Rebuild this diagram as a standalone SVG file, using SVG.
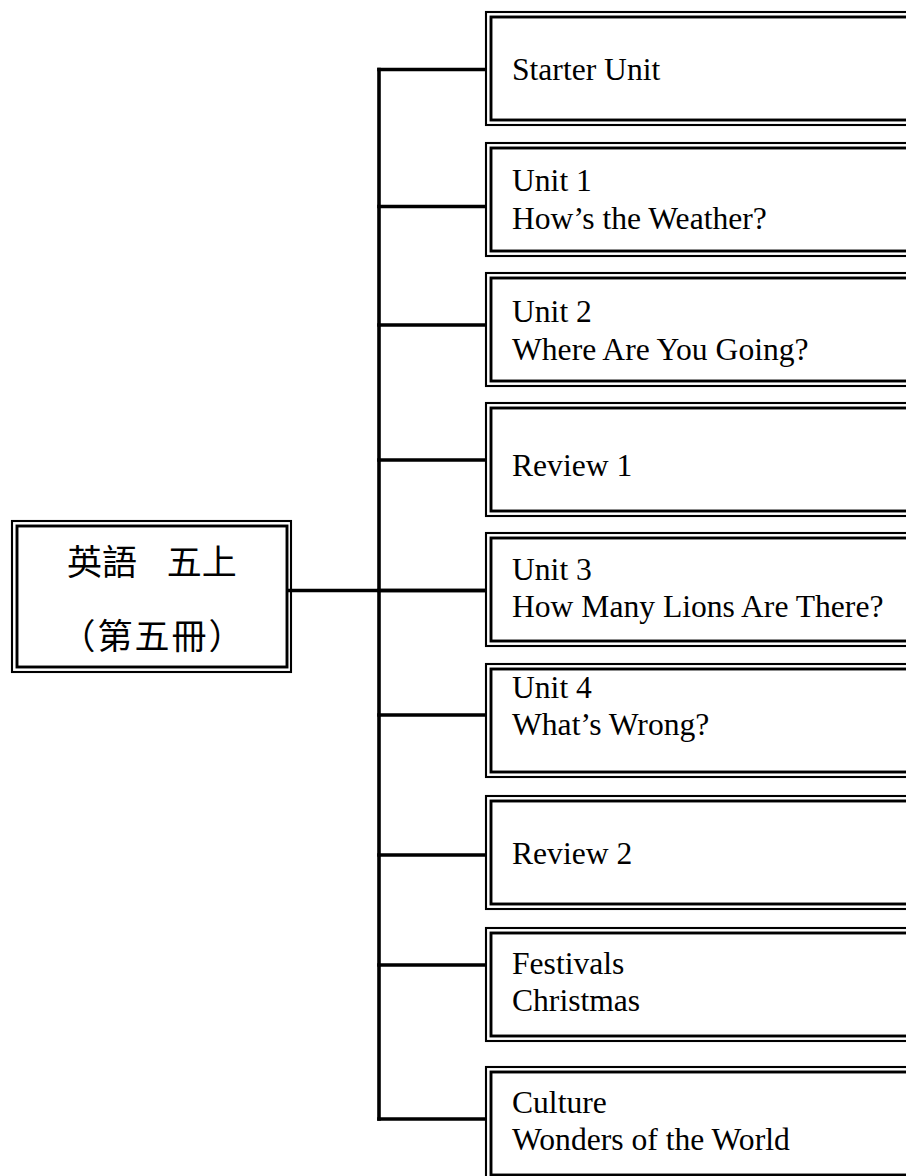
<svg xmlns="http://www.w3.org/2000/svg" width="906" height="1176" viewBox="0 0 906 1176">
<style>
.bg{fill:#fff}
.o{fill:none;stroke:#000;stroke-width:2.1}
.i{fill:none;stroke:#000;stroke-width:2.9}
.t{font-family:"Liberation Serif","Times New Roman",serif;font-size:31.6px;fill:#000}
.c{font-family:"Liberation Serif","Noto Sans CJK TC",serif;font-size:35px;fill:#000;text-anchor:middle}
.ln{fill:none;stroke:#000;stroke-width:3.6;stroke-linecap:square}
</style>
<rect class="bg" x="0" y="0" width="906" height="1176"/>
<g id="connectors">
<path class="ln" d="M289 590.5 H485"/>
<path class="ln" d="M379 69.5 V1119"/>
<path class="ln" d="M379 69.5 H484 M379 206.5 H484 M379 325 H484 M379 460 H484 M379 590.5 H484 M379 715 H484 M379 855 H484 M379 965 H484 M379 1119 H484"/>
</g>
<g id="root">
<rect class="o" x="12" y="521" width="279" height="151"/>
<rect class="i" x="17" y="526" width="270" height="141"/>
<text class="c" x="152" y="575" word-spacing="21">英語 五上</text>
<text class="c" x="153" y="649" letter-spacing="2">（第五冊）</text>
</g>
<g id="n1"><rect class="o" x="486" y="12" width="440" height="113"/><rect class="i" x="491" y="17" width="440" height="103"/><text class="t" x="512" y="80">Starter Unit</text></g>
<g id="n2"><rect class="o" x="486" y="143" width="440" height="113"/><rect class="i" x="491" y="148" width="440" height="103"/><text class="t" x="512" y="191">Unit 1</text><text class="t" x="512" y="229">How’s the Weather?</text></g>
<g id="n3"><rect class="o" x="486" y="273" width="440" height="113"/><rect class="i" x="491" y="278" width="440" height="103"/><text class="t" x="512" y="322">Unit 2</text><text class="t" x="512" y="360">Where Are You Going?</text></g>
<g id="n4"><rect class="o" x="486" y="403" width="440" height="113"/><rect class="i" x="491" y="408" width="440" height="103"/><text class="t" x="512" y="476">Review 1</text></g>
<g id="n5"><rect class="o" x="486" y="533" width="440" height="113"/><rect class="i" x="491" y="538" width="440" height="103"/><text class="t" x="512" y="580">Unit 3</text><text class="t" x="512" y="617">How Many Lions Are There?</text></g>
<g id="n6"><rect class="o" x="486" y="664" width="440" height="113"/><rect class="i" x="491" y="669" width="440" height="103"/><text class="t" x="512" y="698">Unit 4</text><text class="t" x="512" y="735">What’s Wrong?</text></g>
<g id="n7"><rect class="o" x="486" y="796" width="440" height="113"/><rect class="i" x="491" y="801" width="440" height="103"/><text class="t" x="512" y="864">Review 2</text></g>
<g id="n8"><rect class="o" x="486" y="928" width="440" height="113"/><rect class="i" x="491" y="933" width="440" height="103"/><text class="t" x="512" y="974">Festivals</text><text class="t" x="512" y="1011">Christmas</text></g>
<g id="n9"><rect class="o" x="486" y="1067" width="440" height="113"/><rect class="i" x="491" y="1072" width="440" height="103"/><text class="t" x="512" y="1113">Culture</text><text class="t" x="512" y="1150">Wonders of the World</text></g>
</svg>
